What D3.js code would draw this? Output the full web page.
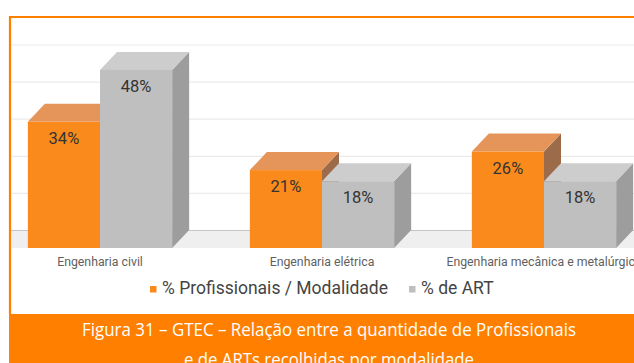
<!DOCTYPE html>
<html>
<head>
<meta charset="utf-8">
<script src="https://cdn.jsdelivr.net/npm/d3@7"></script>
<style>
  html, body { margin: 0; padding: 0; background: #ffffff; }
  svg { display: block; }
</style>
</head>
<body>
<svg id="chart" width="634" height="363"></svg>
<script>
// Chart data
const categories = ["Engenharia civil", "Engenharia elétrica", "Engenharia mecânica e metalúrgica"];
const seriesNames = ["% Profissionais / Modalidade", "% de ART"];
const profissionais = [34, 21, 26];
const arts = [48, 18, 18];
const gridTicks = [0, 10, 20, 30, 40, 50];
const captionLines = [
  "Figura 31 – GTEC – Relação entre a quantidade de Profissionais",
  "e de ARTs recolhidas por modalidade"
];

const W = 634, H = 363;
const orange = "#ff7f00";
const palette = {
  [seriesNames[0]]: { front: "#fb8a1c", top: "#e6955a", side: "#9c6c4a" },
  [seriesNames[1]]: { front: "#bfbfbf", top: "#cdcdcd", side: "#9d9d9d" }
};
const depthX = 17, depthY = 18;   // 3D extrusion of bars

const svg = d3.select("#chart");

// Scales
const x = d3.scaleBand().domain(categories).range([-11, 655])
  .paddingInner(0.35).paddingOuter(0.175);
const xs = d3.scaleBand().domain(seriesNames).range([0, x.bandwidth()]);
const y = d3.scaleLinear().domain([0, 50]).range([248, 62.5]);

// Frame: orange rule on top and left
svg.append("line").attr("x1", 10).attr("x2", W).attr("y1", 17).attr("y2", 17)
  .attr("stroke", orange).attr("stroke-width", 2.2);
svg.append("line").attr("x1", 10).attr("x2", 10).attr("y1", 16).attr("y2", 314)
  .attr("stroke", orange).attr("stroke-width", 2.2);

// Floor of the 3D plot
svg.append("rect").attr("x", 11).attr("y", y(0) - depthY).attr("width", W - 11)
  .attr("height", depthY).attr("fill", "#efefef");

// Gridlines on the back wall
svg.append("g").selectAll("line").data(gridTicks).join("line")
  .attr("x1", 11).attr("x2", W)
  .attr("y1", d => y(d) - depthY + 0.5).attr("y2", d => y(d) - depthY + 0.5)
  .attr("stroke", d => d === 0 ? "#c4c4c4" : "#ebebeb")
  .attr("stroke-width", 1.2);

// Bars
const rows = categories.map((c, i) => [
  { cat: c, s: seriesNames[0], v: profissionais[i] },
  { cat: c, s: seriesNames[1], v: arts[i] }
]).flat();

const bars = svg.append("g").selectAll("g").data(rows).join("g");
bars.each(function(d) {
  const g = d3.select(this);
  const x0 = x(d.cat) + xs(d.s), x1 = x0 + xs.bandwidth();
  const yt = y(d.v), yb = y(0);
  const col = palette[d.s];
  g.append("polygon")
    .attr("points", [[x1, yt], [x1 + depthX, yt - depthY], [x1 + depthX, yb - depthY], [x1, yb]].join(" "))
    .attr("fill", col.side);
  g.append("polygon")
    .attr("points", [[x0, yt], [x0 + depthX, yt - depthY], [x1 + depthX, yt - depthY], [x1, yt]].join(" "))
    .attr("fill", col.top);
  g.append("rect").attr("x", x0).attr("y", yt).attr("width", x1 - x0).attr("height", yb - yt)
    .attr("fill", col.front);
  g.append("text")
    .attr("x", (x0 + x1) / 2).attr("y", yt + 22)
    .attr("text-anchor", "middle")
    .attr("font-family", "Roboto, sans-serif").attr("font-size", 16.5)
    .attr("fill", "#333")
    .text(d.v + "%");
});

// Category labels
svg.append("g").selectAll("text").data(categories).join("text")
  .attr("x", d => x(d) + x.bandwidth() / 2).attr("y", 266)
  .attr("text-anchor", "middle")
  .attr("font-family", "Roboto, sans-serif").attr("font-size", 12.3)
  .attr("fill", "#5f5f5f")
  .text(d => d);

// Legend
const legendItems = [
  { name: seriesNames[0], x: 150 },
  { name: seriesNames[1], x: 409 }
];
const lg = svg.append("g").selectAll("g").data(legendItems).join("g");
lg.append("rect").attr("x", d => d.x).attr("y", 286).attr("width", 6.5).attr("height", 6.5)
  .attr("fill", d => palette[d.name].front);
lg.append("text").attr("x", d => d.x + 12).attr("y", 294)
  .attr("font-family", "Roboto, sans-serif").attr("font-size", 17.5)
  .attr("fill", "#444")
  .text(d => d.name);

// Caption band
svg.append("rect").attr("x", 9).attr("y", 314).attr("width", W - 9).attr("height", H - 314)
  .attr("fill", orange);
svg.append("g").selectAll("text").data(captionLines).join("text")
  .attr("x", 329).attr("y", (d, i) => 336 + i * 29.5)
  .attr("text-anchor", "middle")
  .attr("font-family", "'Open Sans', sans-serif").attr("font-size", 17.5)
  .attr("fill", "#ffffff")
  .attr("textLength", (d, i) => i === 0 ? 494 : 290)
  .attr("lengthAdjust", "spacingAndGlyphs")
  .text(d => d);
</script>
</body>
</html>
